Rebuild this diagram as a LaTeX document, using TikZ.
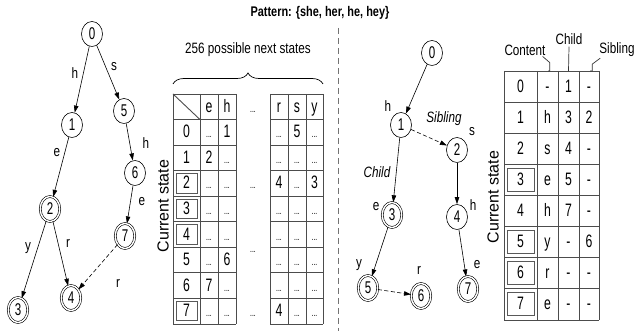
\documentclass[tikz,border=0pt]{standalone}
\usepackage{fontspec}
\setmainfont{Liberation Sans}[FakeStretch=0.78]
\newfontfamily\widesf{Liberation Sans}
\newfontfamily\tallsf{Liberation Sans}[FakeStretch=0.68]
\usetikzlibrary{shapes.geometric,arrows.meta,decorations.pathreplacing}

\newcommand{\dotz}{{\fontsize{10}{10}\selectfont ...}}

\tikzset{
  st/.style={ellipse, draw, line width=0.6pt, minimum width=21pt, minimum height=25pt,
             inner sep=0pt, font=\tallsf\fontsize{17}{17}\selectfont},
  acc/.style={st, double, double distance=1.4pt, minimum width=19.5pt, minimum height=25pt},
  lbl/.style={font=\fontsize{15}{15}\selectfont, inner sep=0pt},
  ilbl/.style={font=\itshape\fontsize{15}{15}\selectfont, inner sep=0pt},
  ed/.style={line width=0.6pt, -{Triangle[length=7pt,width=4.5pt]}},
  sib/.style={ed, dash pattern=on 4pt off 2.5pt},
  grid/.style={line width=0.9pt, draw=black!70},
  inbox/.style={line width=1pt, draw=black!65},
  cell/.style={inner sep=0pt, text height=12pt, text depth=1pt, font=\tallsf\fontsize{18}{18}\selectfont},
  lead/.style={line width=0.7pt, draw=black!80},
  sep/.style={line width=0.8pt, draw=black!55, dash pattern=on 6pt off 4pt},
  vlab/.style={rotate=90, inner sep=0pt, font=\widesf\fontsize{16}{16}\selectfont}
}

\begin{document}
\begin{tikzpicture}[x=1pt,y=-1pt]
\useasboundingbox (0,0) rectangle (635,331);

% heading and separator
\node[font=\bfseries\fontsize{14}{14}\selectfont] (title) at (320,13) {Pattern: \{she, her, he, hey\}};
\coordinate (septop) at (338,28);
\coordinate (sepbot) at (338,331);
\draw[sep] (septop) -- (sepbot);

% ---------- trie as a full state machine ----------
\node[st]  (a0) at (92,34)  {0};
\node[st]  (a1) at (72,125) {1};
\node[st]  (a5) at (124,111){5};
\node[st]  (a6) at (135,173){6};
\node[acc] (a2) at (50,209) {2};
\node[acc] (a7) at (125,236){7};
\node[acc] (a3) at (18,310) {3};
\node[acc] (a4) at (71,298) {4};

\draw[ed] (a0) -- (a1);
\draw[ed] (a0) -- (a5);
\draw[ed] (a1) -- (a2);
\draw[ed] (a5) -- (a6);
\draw[ed] (a2) -- (a3);
\draw[ed] (a2) -- (a4);
\draw[ed] (a6) -- (a7);
\draw[sib] (a7) -- (a4);

\node[lbl] (la01) at (75,73)  {h};
\node[lbl] (la05) at (114,67) {s};
\node[lbl] (la12) at (57,153) {e};
\node[lbl] (la56) at (146,143){h};
\node[lbl] (la67) at (142,202){e};
\node[lbl] (la23) at (28,248) {y};
\node[lbl] (la24) at (68,243) {r};
\node[lbl] (la74) at (118,283){r};

% ---------- transition table ----------
\node[vlab] (cs1) at (163,206) {Current state};
\node[lbl] (nexts) at (248,50) {256 possible next states};
\coordinate (brL) at (173,84);
\coordinate (brR) at (323,84);
\draw[line width=0.7pt, decorate, decoration={brace, amplitude=11pt}] (brL) -- (brR);

\foreach \x in {173,200,218,236,270,288,306,323}
  \draw[grid] (\x,94) -- (\x,324);
\foreach \i in {0,...,9} {
  \pgfmathsetmacro{\yy}{94+\i*25.555}
  \draw[grid] (173,\yy) -- (236,\yy);
  \draw[grid] (270,\yy) -- (323,\yy);
}
\draw[grid] (173,94) -- (200,119.555);
\foreach \r in {2,3,4,7} {
  \pgfmathsetmacro{\ya}{94+(\r+1)*25.555+3}
  \pgfmathsetmacro{\yb}{94+(\r+2)*25.555-3}
  \draw[inbox] (176,\ya) rectangle (197,\yb);
}
% header
\foreach \c/\x/\t in {e/209/e, h/227/h, r/279/r, s/297/s, y/314.5/y}
  \node[cell] (th-\c) at (\x,106.8) {\t};
\foreach \k/\yy in {0/106.8, 2/183.5, 4/247.3, 7/311.2}
  \node[cell] (tmid-\k) at (253,\yy) {\dotz};
% body rows
\foreach \r/\va/\vb/\vc/\vd/\ve in {
    0/\dotz/1/\dotz/5/\dotz,
    1/2/\dotz/\dotz/\dotz/\dotz,
    2/\dotz/\dotz/4/\dotz/3,
    3/\dotz/\dotz/\dotz/\dotz/\dotz,
    4/\dotz/\dotz/\dotz/\dotz/\dotz,
    5/\dotz/6/\dotz/\dotz/\dotz,
    6/7/\dotz/\dotz/\dotz/\dotz,
    7/\dotz/\dotz/4/\dotz/\dotz} {
  \pgfmathsetmacro{\yc}{94+(\r+1.5)*25.555}
  \node[cell] (t-\r-s) at (186.5,\yc) {\r};
  \node[cell] (t-\r-e) at (209,\yc)   {\va};
  \node[cell] (t-\r-h) at (227,\yc)   {\vb};
  \node[cell] (t-\r-r) at (279,\yc)   {\vc};
  \node[cell] (t-\r-x) at (297,\yc)   {\vd};
  \node[cell] (t-\r-y) at (314.5,\yc) {\ve};
}

% ---------- trie in child/sibling form ----------
\node[st]  (b0) at (432,53)  {0};
\node[st]  (b1) at (401,125) {1};
\node[st]  (b2) at (457,150) {2};
\node[acc] (b3) at (392,215) {3};
\node[st]  (b4) at (457,217) {4};
\node[acc] (b5) at (368,288) {5};
\node[acc] (b6) at (421,296) {6};
\node[acc] (b7) at (468,289) {7};

\draw[ed]  (b0) -- (b1);
\draw[sib] (b1) -- (b2);
\draw[ed]  (b1) -- (b3);
\draw[ed]  (b2) -- (b4);
\draw[ed]  (b3) -- (b5);
\draw[sib] (b5) -- (b6);
\draw[ed]  (b4) -- (b7);

\node[lbl]  (lb1) at (388,106) {h};
\node[ilbl] (lbs) at (444,119) {Sibling};
\node[lbl]  (lb2) at (472,132) {s};
\node[ilbl] (lbc) at (377,172) {Child};
\node[lbl]  (lb3) at (376,207) {e};
\node[lbl]  (lb4) at (473,205) {h};
\node[lbl]  (lb5) at (359,265) {y};
\node[lbl]  (lb6) at (419,270) {r};
\node[lbl]  (lb7) at (477,265) {e};

% ---------- compact node table ----------
\node[vlab] (cs2) at (493,197) {Current state};
\foreach \x in {504,537,558,579,599}
  \draw[grid] (\x,71) -- (\x,320);
\foreach \i in {0,...,8} {
  \pgfmathsetmacro{\yy}{71+\i*31.125}
  \draw[grid] (504,\yy) -- (599,\yy);
}
\foreach \r in {3,5,6,7} {
  \pgfmathsetmacro{\ya}{71+\r*31.125+4}
  \pgfmathsetmacro{\yb}{71+(\r+1)*31.125-4}
  \draw[inbox] (507,\ya) rectangle (534,\yb);
}
\foreach \r/\va/\vb/\vc in {0/-/1/-, 1/h/3/2, 2/s/4/-, 3/e/5/-, 4/h/7/-, 5/y/-/6, 6/r/-/-, 7/e/-/-} {
  \pgfmathsetmacro{\yc}{71+(\r+0.5)*31.125}
  \node[cell] (u-\r-s) at (520.5,\yc) {\r};
  \node[cell] (u-\r-c) at (547.5,\yc) {\va};
  \node[cell] (u-\r-d) at (568.5,\yc) {\vb};
  \node[cell] (u-\r-b) at (589,\yc)   {\vc};
}
\node[lbl] (hcont) at (525,50) {Content};
\node[lbl] (hchild) at (569,39) {Child};
\node[lbl] (hsib) at (617,50) {Sibling};
\coordinate (tcont) at (548,71);
\coordinate (tchild) at (568.5,71);
\coordinate (tsib) at (590,71);
\draw[lead] (hcont.south east) ++(-3,1) -- ++(7,6) |- (tcont);
\draw[lead] (hchild.south) ++(0,2) -- (tchild);
\draw[lead] (hsib.south west) ++(1,1) -- ++(-8,6) |- (tsib);
\end{tikzpicture}
\end{document}
